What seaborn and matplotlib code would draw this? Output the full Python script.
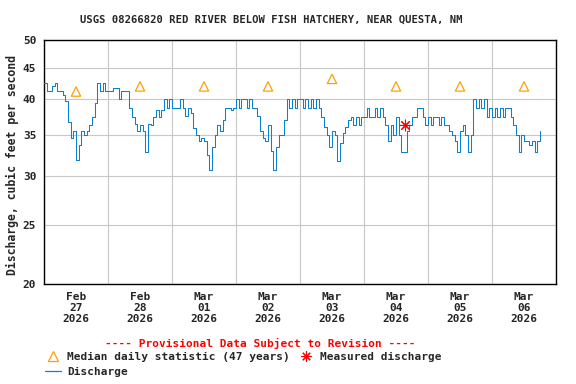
import matplotlib
matplotlib.use('Agg')
import matplotlib.pyplot as plt
import matplotlib.dates as mdates
from matplotlib.ticker import FixedLocator, FixedFormatter, NullLocator
from matplotlib.lines import Line2D
import seaborn as sns
import pandas as pd

# ---- Data (hourly discharge, cfs) ----
feb27 = [42.5, 41.3, 41.3, 42.1, 42.5, 41.3, 41.3, 40.6, 39.8, 36.8, 34.6, 35.5,
         31.9, 33.7, 35.5, 35.0, 35.5, 36.3, 37.4, 39.5, 42.5, 41.3, 42.5, 41.3]
feb28 = [41.3, 41.3, 41.8, 41.8, 40.0, 41.3, 41.3, 41.3, 38.8, 37.4, 36.5, 35.5,
         36.3, 35.5, 32.8, 36.5, 36.3, 37.4, 38.4, 37.4, 38.4, 40.0, 38.8, 40.0]
mar01 = [38.8, 38.8, 38.8, 40.0, 38.8, 37.6, 38.8, 38.0, 35.9, 35.0, 34.2, 34.6,
         34.2, 32.5, 30.7, 33.5, 35.0, 36.3, 35.5, 37.0, 38.8, 38.8, 38.4, 38.8]
mar02 = [40.0, 38.8, 40.0, 40.0, 38.8, 40.0, 38.8, 38.8, 37.6, 35.5, 34.6, 34.2,
         36.3, 33.0, 30.7, 33.5, 35.0, 35.0, 37.0, 40.0, 38.8, 40.0, 38.8, 40.0]
mar03 = [40.0, 38.8, 40.0, 38.8, 40.0, 38.8, 40.0, 38.8, 37.4, 36.0, 35.0, 33.5,
         35.5, 35.0, 31.7, 34.0, 35.2, 36.0, 37.0, 37.5, 36.3, 37.5, 36.3, 37.5]
mar04 = [37.5, 38.8, 37.5, 37.5, 38.8, 37.5, 38.8, 37.5, 36.3, 34.2, 36.3, 35.0,
         37.4, 35.0, 32.8, 32.8, 35.5, 36.3, 37.5, 37.5, 38.8, 38.8, 37.5, 36.3]
mar05 = [37.5, 36.3, 37.5, 37.5, 36.3, 37.5, 36.3, 36.3, 35.5, 35.0, 34.2, 32.8,
         35.5, 36.3, 35.0, 32.8, 35.0, 40.0, 38.8, 40.0, 38.8, 40.0, 37.5, 38.8]
mar06 = [37.5, 38.8, 37.5, 38.8, 37.5, 38.8, 38.8, 37.5, 36.3, 35.0, 32.8, 35.0,
         34.2, 34.2, 33.7, 34.2, 32.8, 34.2, 35.5]

median_days = ['2026-02-27 12:00', '2026-02-28 12:00', '2026-03-01 12:00', '2026-03-02 12:00',
               '2026-03-03 12:00', '2026-03-04 12:00', '2026-03-05 12:00', '2026-03-06 12:00']
median_vals = [41.2, 42.0, 42.0, 42.0, 43.2, 42.0, 42.0, 42.0]

measured_time = ['2026-03-04 15:20']
measured_vals = [36.3]

y_ticks = [20, 25, 30, 35, 40, 45, 50]
title = "USGS 08266820 RED RIVER BELOW FISH HATCHERY, NEAR QUESTA, NM"

# ---- Build frames ----
flow = feb27 + feb28 + mar01 + mar02 + mar03 + mar04 + mar05 + mar06
df = pd.DataFrame({'time': pd.date_range('2026-02-27 00:00', periods=len(flow), freq='h'),
                   'flow': flow})
dmed = pd.DataFrame({'time': pd.to_datetime(median_days), 'flow': median_vals})
dmeas = pd.DataFrame({'time': pd.to_datetime(measured_time), 'flow': measured_vals})

sns.set_style('white')
plt.rcParams['font.family'] = ['DejaVu Sans Mono']
plt.rcParams['font.weight'] = 'bold'

BLUE = '#0a80d0'
ORANGE = '#ffa000'
RED = '#ff0000'

fig = plt.figure(figsize=(5.76, 3.84), dpi=100)
ax = fig.add_axes([44 / 576, 1 - 284 / 384, 512 / 576, 244 / 384])

sns.lineplot(data=df, x='time', y='flow', ax=ax, color=BLUE, lw=0.75,
             drawstyle='steps-post', estimator=None, zorder=3)
sns.scatterplot(data=dmed, x='time', y='flow', ax=ax, marker='^', s=45,
                facecolor='none', edgecolor=ORANGE, linewidth=0.9, zorder=4)
sns.scatterplot(data=dmeas, x='time', y='flow', ax=ax, marker=(8, 2, 0), s=60,
                color=RED, linewidth=0.8, zorder=5)

ax.set_yscale('log')
ax.set_ylim(20, 50)
ax.yaxis.set_major_locator(FixedLocator(y_ticks))
ax.yaxis.set_major_formatter(FixedFormatter([str(v) for v in y_ticks]))
ax.yaxis.set_minor_locator(NullLocator())

ax.set_xlim(pd.Timestamp('2026-02-27'), pd.Timestamp('2026-03-07'))
ax.xaxis.set_major_locator(mdates.DayLocator())
ax.xaxis.set_major_formatter(plt.NullFormatter())
ax.xaxis.set_minor_locator(mdates.HourLocator(byhour=[12]))
ax.xaxis.set_minor_formatter(mdates.DateFormatter('%b\n%d\n%Y'))

ax.grid(True, which='major', color='#c8c8c8', lw=0.8)
ax.tick_params(axis='both', which='both', length=0, labelsize=8)
ax.tick_params(axis='y', pad=5.5)
ax.tick_params(axis='x', which='minor', pad=5.5)
for lab in ax.get_xticklabels(minor=True):
    lab.set_linespacing(1.15)
for s in ax.spines.values():
    s.set_color('black')
    s.set_linewidth(1.0)
ax.set_xlabel('')
ax.set_ylabel('')

fig.text(271 / 576, 1 - 20 / 384, title, ha='center', va='center', fontsize=7.6, fontweight='bold')
fig.text(12 / 576, 1 - 165 / 384, 'Discharge, cubic feet per second', rotation=90,
         ha='center', va='center', fontsize=8.3, fontweight='bold')
fig.text(260 / 576, 1 - 343 / 384, '---- Provisional Data Subject to Revision ----',
         ha='center', va='center', fontsize=8, fontweight='bold', color=RED)

h_med = Line2D([], [], ls='none', marker='^', ms=6.5, mfc='none', mec=ORANGE, mew=0.9)
h_dis = Line2D([], [], color=BLUE, lw=0.9)
h_meas = Line2D([], [], ls='none', marker=(8, 2, 0), ms=7.5, color=RED, mew=0.8)
fig.legend(handles=[h_med, h_dis, h_meas],
           labels=['Median daily statistic (47 years)', 'Discharge', 'Measured discharge'],
           ncol=2, loc='upper left', bbox_to_anchor=(45 / 576, 1 - 352 / 384),
           frameon=False, fontsize=8, handlelength=1.4, handletextpad=0.6,
           columnspacing=0.7, labelspacing=0.45, borderpad=0, borderaxespad=0)

fig.savefig('out.png', dpi=100)
